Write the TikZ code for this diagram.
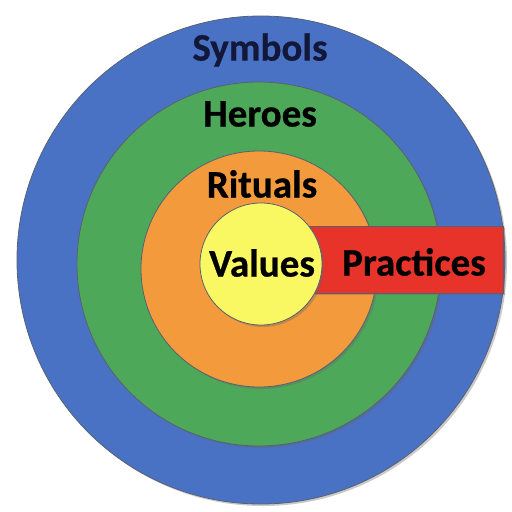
\documentclass[tikz,border=0pt]{standalone}
\usepackage{fontspec}
\setmainfont{Carlito}[BoldFeatures={FakeBold=0.6}]
\usetikzlibrary{shadows}
\definecolor{cblue}{HTML}{4A72C4}
\definecolor{cgreen}{HTML}{4DA85A}
\definecolor{corange}{HTML}{F29A3C}
\definecolor{cyellow}{HTML}{FAF862}
\definecolor{cred}{HTML}{E8332B}
\definecolor{cedge}{HTML}{2E3A50}
\definecolor{cnavy}{HTML}{12183A}
\tikzset{
  ring/.style={draw=cedge!80, line width=0.8pt, drop shadow={shadow xshift=2pt, shadow yshift=-2pt, opacity=0.35, fill=black!60}},
  lbl/.style={font=\bfseries\fontsize{39}{39}\selectfont, text=black, inner sep=0pt}
}
\begin{document}
\begin{tikzpicture}[x=1pt,y=-1pt]
\useasboundingbox (0,0) rectangle (512,512);
\fill[white] (0,0) rectangle (512,512);
\path[ring, fill=cblue] (261,260) circle (244);
\path[ring, fill=cgreen] (259,264) circle (182);
\path[ring, fill=corange] (259,269) circle (118);
\path[ring, fill=cred] (300,226) rectangle (503,293);
\path[ring, fill=cyellow] (261,264) circle (61);
\node[lbl, text=cnavy] (symbols) at (260,50) {Symbols};
\node[lbl] (heroes) at (260,114) {Heroes};
\node[lbl] (rituals) at (262,184) {Rituals};
\node[lbl] (values) at (262,263) {Values};
\node[lbl] (practices) at (414,262) {Practices};
\end{tikzpicture}
\end{document}
